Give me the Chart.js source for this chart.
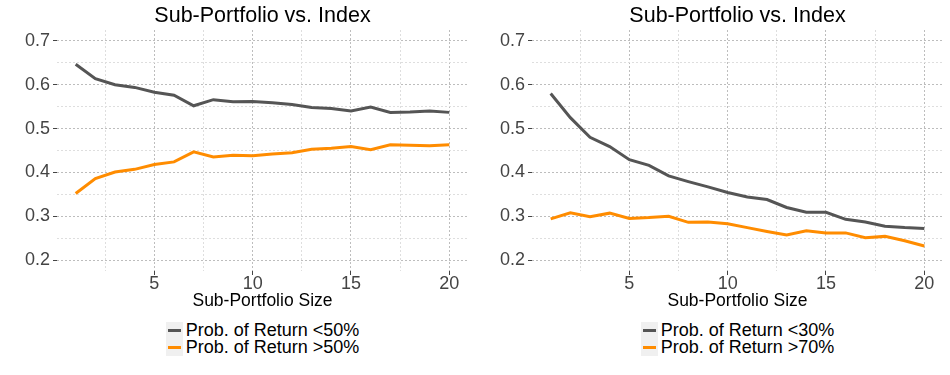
<!DOCTYPE html>
<html>
<head>
<meta charset="utf-8">
<script src="https://cdn.jsdelivr.net/npm/chart.js@4/dist/chart.umd.min.js"></script>
<style>
    body{ margin:0; background:#fff; font-family:"Liberation Sans", Arial, sans-serif; }
    #wrap{ display:flex; width:950px; height:375px; }
    .panel{ position:relative; width:475px; height:375px; }
    .panel canvas{ display:block; }
    .legend{ position:absolute; top:322px; left:0; width:525px; display:flex; justify-content:center; }
    .legend-inner{ display:flex; flex-direction:column; }
    .item{ display:flex; align-items:center; height:17px; font-size:18px; color:#000; white-space:nowrap; }
    .key{ width:17px; height:17px; background:#f0f0f0; position:relative; margin-right:3px; }
    .key span{ position:absolute; left:2px; right:2px; top:7px; height:3px; }
</style>
</head>
<body>
<div id="wrap">
    <div class="panel"><canvas id="c1" width="475" height="309"></canvas><div class="legend" id="l1"></div></div>
    <div class="panel"><canvas id="c2" width="475" height="309"></canvas><div class="legend" id="l2"></div></div>
</div>
<script>
    var sizes = [1,2,3,4,5,6,7,8,9,10,11,12,13,14,15,16,17,18,19,20];

    var below50 = [0.647,0.614,0.600,0.594,0.583,0.576,0.552,0.566,0.561,0.562,0.559,0.555,0.548,0.546,0.540,0.549,0.537,0.538,0.540,0.537];
    var above50 = [0.352,0.386,0.401,0.407,0.418,0.424,0.447,0.435,0.439,0.438,0.442,0.445,0.453,0.455,0.459,0.452,0.463,0.462,0.461,0.463];

    var below30 = [0.580,0.525,0.480,0.459,0.429,0.416,0.392,0.379,0.367,0.354,0.344,0.338,0.320,0.309,0.309,0.293,0.287,0.277,0.274,0.272];
    var above70 = [0.294,0.308,0.299,0.307,0.295,0.297,0.300,0.286,0.287,0.283,0.274,0.265,0.257,0.267,0.262,0.262,0.251,0.254,0.244,0.232];

    var xTicks = [2.5,5,7.5,10,12.5,15,17.5,20];
    var xMajor = [5,10,15,20];
    var yTicks = [0.2,0.25,0.3,0.35,0.4,0.45,0.5,0.55,0.6,0.65,0.7];
    var yMajor = [0.2,0.3,0.4,0.5,0.6,0.7];

    var GRAY = '#555555';
    var ORANGE = '#ff8c00';
    var FONT = '"Liberation Sans", Arial, sans-serif';

    function isMajor(list, v){
        for(var i = 0; i < list.length; i++){
            if(Math.abs(list[i] - v) < 1e-6) return true;
        }
        return false;
    }

    function toPoints(vals){
        return sizes.map(function(s, i){ return {x: s, y: vals[i]}; });
    }

    // x tick labels, placed from the scales
    var xLabelPlugin = {
        id: 'xLabels',
        afterDraw: function(chart){
            var sx = chart.scales.x, sy = chart.scales.y;
            var ctx = chart.ctx;
            ctx.save();
            ctx.font = '18px ' + FONT;
            ctx.fillStyle = '#444';
            ctx.textAlign = 'center';
            ctx.textBaseline = 'middle';
            xMajor.forEach(function(v){
                ctx.fillText(String(v), sx.getPixelForValue(v), sy.bottom + 13);
            });
            ctx.restore();
        }
    };

    function makeChart(id, lowLabel, lowVals, highLabel, highVals){
        var ctx = document.getElementById(id).getContext('2d');
        return new Chart(ctx, {
            type: 'line',
            data: {
                datasets: [
                    {label: lowLabel, data: toPoints(lowVals), borderColor: GRAY, borderWidth: 3, pointRadius: 0, tension: 0, fill: false},
                    {label: highLabel, data: toPoints(highVals), borderColor: ORANGE, borderWidth: 3, pointRadius: 0, tension: 0, fill: false}
                ]
            },
            plugins: [xLabelPlugin],
            options: {
                responsive: false,
                animation: false,
                devicePixelRatio: 1,
                layout: { padding: {left: 0, right: 7, top: 0, bottom: 0} },
                plugins: {
                    legend: { display: false },
                    tooltip: { enabled: false },
                    title: {
                        display: true,
                        fullSize: false,
                        text: 'Sub-Portfolio vs. Index',
                        color: '#000',
                        font: {family: FONT, size: 21.5, weight: 'normal', lineHeight: 1.2},
                        padding: {top: 3, bottom: 1.2}
                    }
                },
                scales: {
                    x: {
                        type: 'linear',
                        min: 0.05,
                        max: 20.95,
                        afterBuildTicks: function(scale){
                            scale.ticks = xTicks.map(function(v){ return {value: v}; });
                        },
                        border: { display: false, dash: [2, 2] },
                        grid: {
                            drawTicks: true,
                            tickLength: 4,
                            tickBorderDash: [],
                            lineWidth: 1,
                            color: function(c){ return isMajor(xMajor, c.tick.value) ? '#bdbdbd' : '#dedede'; },
                            tickColor: function(c){ return isMajor(xMajor, c.tick.value) ? '#444' : 'rgba(0,0,0,0)'; }
                        },
                        ticks: { display: false },
                        title: {
                            display: true,
                            text: 'Sub-Portfolio Size',
                            color: '#000',
                            font: {family: FONT, size: 17.5, lineHeight: 0.9},
                            padding: {top: 18.25, bottom: 0}
                        }
                    },
                    y: {
                        min: 0.175,
                        max: 0.725,
                        afterBuildTicks: function(scale){
                            scale.ticks = yTicks.map(function(v){ return {value: v}; });
                        },
                        afterFit: function(scale){ scale.width = 57; },
                        border: { display: false, dash: [2, 2] },
                        grid: {
                            drawTicks: true,
                            tickLength: 4,
                            tickBorderDash: [],
                            lineWidth: 1,
                            color: function(c){ return isMajor(yMajor, c.tick.value) ? '#bdbdbd' : '#dedede'; },
                            tickColor: function(c){ return isMajor(yMajor, c.tick.value) ? '#444' : 'rgba(0,0,0,0)'; }
                        },
                        ticks: {
                            autoSkip: false,
                            padding: 3,
                            color: '#444',
                            font: {family: FONT, size: 18},
                            callback: function(v){ return isMajor(yMajor, v) ? v.toFixed(1) : ''; }
                        }
                    }
                }
            }
        });
    }

    function buildLegend(id, chart){
        var box = document.getElementById(id);
        var inner = document.createElement('div');
        inner.className = 'legend-inner';
        chart.data.datasets.forEach(function(ds){
            var row = document.createElement('div');
            row.className = 'item';
            var key = document.createElement('div');
            key.className = 'key';
            var line = document.createElement('span');
            line.style.background = ds.borderColor;
            key.appendChild(line);
            var txt = document.createElement('div');
            txt.textContent = ds.label;
            row.appendChild(key);
            row.appendChild(txt);
            inner.appendChild(row);
        });
        box.appendChild(inner);
    }

    var left = makeChart('c1', 'Prob. of Return <50%', below50, 'Prob. of Return >50%', above50);
    var right = makeChart('c2', 'Prob. of Return <30%', below30, 'Prob. of Return >70%', above70);
    buildLegend('l1', left);
    buildLegend('l2', right);
</script>
</body>
</html>
